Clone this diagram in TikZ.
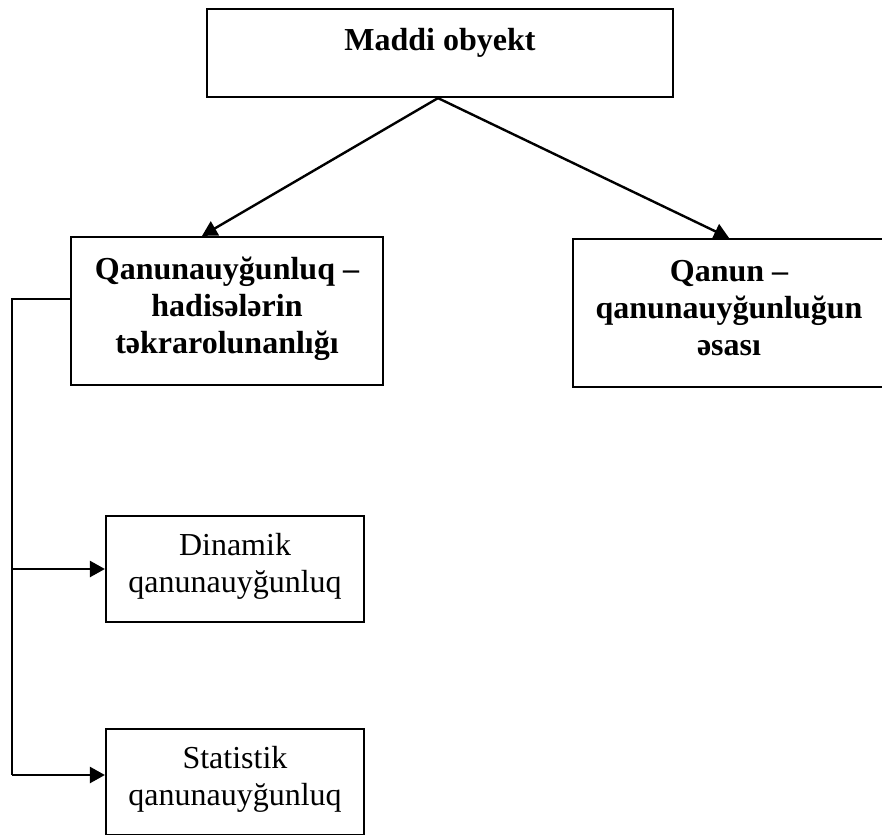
\documentclass[tikz,border=0pt]{standalone}
\usepackage{fontspec}
\setmainfont{Liberation Serif}
\usetikzlibrary{arrows.meta}
\begin{document}
\begin{tikzpicture}[x=1pt,y=-1pt,
  box/.style={draw=black, line width=2.2pt, rectangle, inner sep=0pt},
  conn/.style={draw=black, line width=2.2pt},
  arr/.style={draw=black, line width=2.4pt, -{Triangle[length=15pt,width=16pt]}},
  txt/.style={inner sep=0pt, anchor=base, font=\fontsize{32}{37}\selectfont},
  btxt/.style={txt, font=\fontsize{32}{37}\selectfont\bfseries}]
\useasboundingbox (0,0) rectangle (882,834);
\clip (0,0) rectangle (882,834);
% boxes
\node[box, minimum width=466pt, minimum height=88pt] (top) at (440,53) {};
\node[box, minimum width=312pt, minimum height=148pt] (qb) at (227,311) {};
\node[box, minimum width=312pt, minimum height=148pt] (qr) at (729,313) {};
\node[box, minimum width=258pt, minimum height=106pt] (din) at (235,569) {};
\node[box, minimum width=258pt, minimum height=106pt] (stat) at (235,782) {};
% texts
\node[btxt] (toptxt) at (440,51) {Maddi obyekt};
\node[btxt] (qbtxt) at (227,279) {\begin{tabular}[t]{@{}c@{}}Qanunauyğunluq –\\hadisələrin\\təkrarolunanlığı\end{tabular}};
\node[btxt] (qrtxt) at (729,281) {\begin{tabular}[t]{@{}c@{}}Qanun –\\qanunauyğunluğun\\əsası\end{tabular}};
\node[txt] (dintxt) at (235,555) {\begin{tabular}[t]{@{}c@{}}Dinamik\\qanunauyğunluq\end{tabular}};
\node[txt] (stattxt) at (235,768) {\begin{tabular}[t]{@{}c@{}}Statistik\\qanunauyğunluq\end{tabular}};
% connectors
\draw[arr] ([xshift=-2pt]top.south) -- ([xshift=-25pt]qb.north);
\draw[arr] ([xshift=-2pt]top.south) -- (qr.north);
\coordinate (j1) at (12,299);
\coordinate (j2) at (12,569);
\coordinate (j3) at (12,775);
\draw[conn] (qb.west |- j1) -- (j1) -- (j3);
\draw[arr] (j2) -- (din.west);
\draw[arr] (j3) -- (j3 -| stat.west);
\end{tikzpicture}
\end{document}
